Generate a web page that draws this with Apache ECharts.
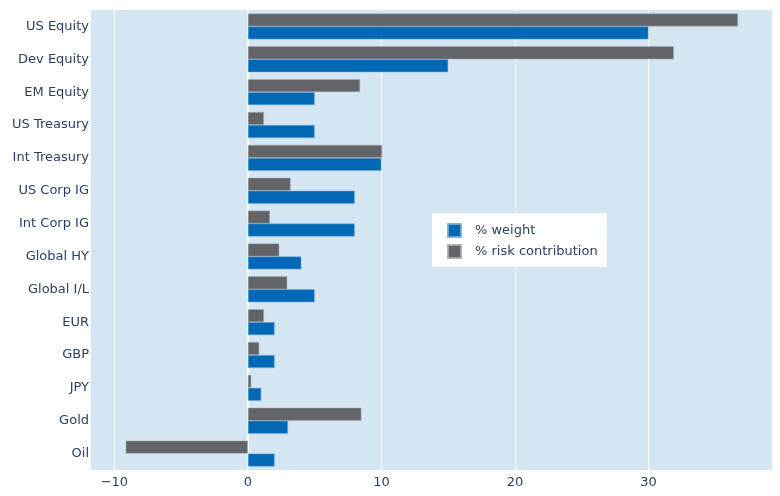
<!DOCTYPE html>
<html>
<head>
<meta charset="utf-8">
<script src="https://cdn.jsdelivr.net/npm/echarts@6/dist/echarts.min.js"></script>
<style>html,body{margin:0;padding:0;background:#fff;}#c{width:780px;height:496px;}</style>
</head>
<body>
<div id="c"></div>
<script>
const categories = ["US Equity","Dev Equity","EM Equity","US Treasury","Int Treasury","US Corp IG","Int Corp IG","Global HY","Global I/L","EUR","GBP","JPY","Gold","Oil"];
const weight = [30, 15, 5, 5, 10, 8, 8, 4, 5, 2, 2, 1, 3, 2];
const riskContribution = [36.7, 31.9, 8.4, 1.2, 10.05, 3.2, 1.65, 2.35, 2.95, 1.2, 0.85, 0.25, 8.5, -9.15];

const chart = echarts.init(document.getElementById('c'), null, {renderer: 'canvas'});
const font = 'DejaVu Sans';
chart.setOption({
  animation: false,
  textStyle: {fontFamily: font},
  grid: {left: 91, right: 8, top: 10, bottom: 26, show: true, backgroundColor: '#d4e6f2', borderWidth: 0},
  legend: {
    orient: 'vertical', left: 432, top: 213,
    backgroundColor: '#ffffff', padding: [10, 9, 8, 15],
    itemWidth: 13, itemHeight: 13, itemGap: 6, icon: 'rect',
    textStyle: {color: '#2a3f5f', fontSize: 13, lineHeight: 13, fontFamily: font, padding: [0, 0, 0, 9]},
    data: ['% weight', '% risk contribution']
  },
  xAxis: {
    type: 'value', min: -11.75, max: 39.25, splitNumber: 5,
    axisLine: {show: false}, axisTick: {show: false},
    splitLine: {show: true, showMinLine: false, showMaxLine: false, lineStyle: {color: '#ffffff', width: 1}},
    axisLabel: {show: true, color: '#2a3f5f', fontSize: 13, fontFamily: font, margin: 6,
      showMinLabel: false, showMaxLabel: false,
      formatter: v => (Math.abs(v % 10) < 1e-9) ? String(v).replace('-', '\u2212') : ''}
  },
  yAxis: {
    type: 'category', data: categories, inverse: true,
    axisLine: {show: true, onZero: true, lineStyle: {color: '#ffffff', width: 2}}, axisTick: {show: false},
    axisLabel: {color: '#2a3f5f', fontSize: 13, fontFamily: font, margin: 2}
  },
  series: [
    {
      name: '% risk contribution', type: 'bar', data: riskContribution,
      barCategoryGap: '21%', barGap: '0%',
      itemStyle: {color: '#636468', borderColor: 'rgba(170,170,175,0.9)', borderWidth: 0.6}
    },
    {
      name: '% weight', type: 'bar', data: weight,
      barCategoryGap: '21%', barGap: '0%',
      itemStyle: {color: '#0068b5', borderColor: 'rgba(120,170,220,0.9)', borderWidth: 0.6}
    }
  ]
});
</script>
</body>
</html>
